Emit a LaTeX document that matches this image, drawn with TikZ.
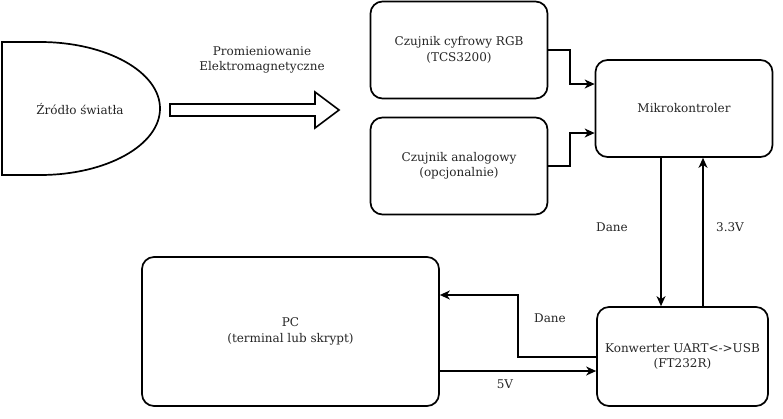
\documentclass[tikz,border=0pt]{standalone}
\usepackage{fontspec}
\setmainfont{DejaVu Serif}
\usetikzlibrary{arrows.meta,positioning}
\begin{document}
\begin{tikzpicture}[x=1pt,y=-1pt,
  box/.style={draw=black,line width=1.7pt,rounded corners=12pt,fill=white,align=center,font=\fontsize{12}{15.5}\selectfont,inner sep=0pt,text=black!85},
  lbl/.style={font=\fontsize{12}{15.5}\selectfont,align=center,text=black!85},
  conn/.style={line width=1.5pt,-{Stealth[length=10pt,width=9pt,inset=3pt]}}]
\useasboundingbox (0,0) rectangle (783,418);
% light source
\draw[line width=1.7pt,fill=white] (2,42) -- (40,42) arc[start angle=-90,end angle=90,x radius=120,y radius=66.5] -- (2,175) -- cycle;
\node[lbl] (src) at (80,109) {Źródło światła};
% block arrow
\draw[line width=1.6pt,fill=white,line join=miter] (170,104) -- (315,104) -- (315,92) -- (339,110) -- (315,128) -- (315,116) -- (170,116) -- cycle;
\node[lbl] (rad) at (262,60) {Promieniowanie\\Elektromagnetyczne};
% boxes
\node[box,minimum width=177pt,minimum height=97pt] (rgb) at (459,50) {Czujnik cyfrowy RGB\\(TCS3200)};
\node[box,minimum width=177pt,minimum height=97pt] (ana) at (459,166) {Czujnik analogowy\\(opcjonalnie)};
\node[box,minimum width=177pt,minimum height=97pt] (mcu) at (684,108.5) {Mikrokontroler};
\node[box,minimum width=171pt,minimum height=99pt] (conv) at (682.5,356.5) {Konwerter UART<->USB\\(FT232R)};
\node[box,minimum width=297pt,minimum height=149pt] (pc) at (290.5,331.5) {PC\\(terminal lub skrypt)};
% connectors
\draw[conn] (rgb.east |- 0,50) -- (570,50) -- (570,84) -- (mcu.west |- 0,84);
\draw[conn] (ana.east |- 0,166) -- (570,166) -- (570,133) -- (mcu.west |- 0,133);
\draw[conn] (mcu.south -| 661,0) -- (conv.north -| 661,0);
\draw[conn] (conv.north -| 703,0) -- (mcu.south -| 703,0);
\draw[conn] (conv.west |- 0,357) -- (518,357) -- (518,295) -- (pc.east |- 0,295);
\draw[conn] (pc.east |- 0,371) -- (conv.west |- 0,371);
% labels
\node[lbl] (l1) at (612,227) {Dane};
\node[lbl] (l2) at (730,227) {3.3V};
\node[lbl] (l3) at (550,318) {Dane};
\node[lbl] (l4) at (505,384) {5V};
\end{tikzpicture}
\end{document}
